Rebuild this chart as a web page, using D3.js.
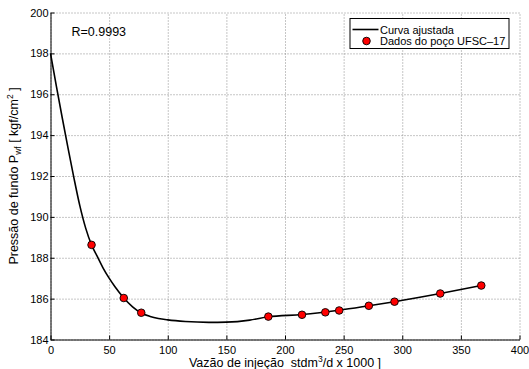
<!DOCTYPE html>
<html>
<head>
<meta charset="utf-8">
<script src="https://cdn.jsdelivr.net/npm/d3@7"></script>
<style>
    html, body { margin: 0; padding: 0; background: #fff; }
    svg { display: block; font-family: "Liberation Sans", Arial, Helvetica, sans-serif; }
    .grid line { stroke: #8c8c8c; stroke-dasharray: 1,2; stroke-width: 1; }
    .grid path { display: none; }
    .axis path, .axis line { stroke: #000; stroke-width: 1; }
    .axis text { font-size: 11px; fill: #000; }
</style>
</head>
<body>
<div id="chart"></div>
<script>
// well test data: injection rate (x1000 stdm3/d) vs bottom-hole pressure (kgf/cm2)
const wellRate = [35, 62.5, 77.4, 185.8, 214.5, 234.4, 246.2, 271.5, 293.4, 332.4, 367.4];
const wellPressure = [188.63, 186.03, 185.31, 185.12, 185.21, 185.33, 185.42, 185.65, 185.85, 186.25, 186.64];

// fitted curve, sampled
const fitRate = [0, 5, 10, 15, 20, 25, 30, 35, 40, 45, 50, 55, 62.5, 70, 77.4, 85, 92, 100, 115, 135, 150, 170, 185.8, 214.5, 246.2, 271.5, 293.4, 332.4, 367.4];
const fitPressure = [198.0, 196.4, 194.85, 193.35, 191.9, 190.55, 189.45, 188.63, 188.05, 187.48, 187.0, 186.58, 186.03, 185.6, 185.3, 185.13, 185.03, 184.96, 184.88, 184.84, 184.85, 184.95, 185.11, 185.22, 185.43, 185.65, 185.85, 186.25, 186.64];

const xTicks = [0, 50, 100, 150, 200, 250, 300, 350, 400];
const yTicks = [184, 186, 188, 190, 192, 194, 196, 198, 200];
const fitLabel = 'R=0.9993';

const width = 529, height = 369;
const margin = { top: 12.5, right: 9.5, bottom: 29.5, left: 50.5 };

const svg = d3.select('#chart').append('svg')
    .attr('width', width)
    .attr('height', height);

const x = d3.scaleLinear().domain([0, 400]).range([margin.left, width - margin.right]);
const y = d3.scaleLinear().domain([184, 200]).range([height - margin.bottom, margin.top]);

// dotted grid
svg.append('g')
    .attr('class', 'grid')
    .attr('transform', `translate(0, ${y(184)})`)
    .call(d3.axisBottom(x).tickValues(xTicks).tickSize(-(y(184) - y(200))).tickFormat(''));
svg.append('g')
    .attr('class', 'grid')
    .attr('transform', `translate(${x(0)}, 0)`)
    .call(d3.axisLeft(y).tickValues(yTicks).tickSize(-(x(400) - x(0))).tickFormat(''));

// axes, ticks pointing inward
svg.append('g')
    .attr('class', 'axis axis-x')
    .attr('transform', `translate(0, ${y(184)})`)
    .call(d3.axisBottom(x).tickValues(xTicks).tickSizeInner(-4).tickSizeOuter(0).tickPadding(5));
svg.append('g')
    .attr('class', 'axis axis-y')
    .attr('transform', `translate(${x(0)}, 0)`)
    .call(d3.axisLeft(y).tickValues(yTicks).tickSizeInner(-4).tickSizeOuter(0).tickPadding(2));

svg.selectAll('.axis text').attr('font-family', null);
svg.selectAll('.axis-x .tick text').attr('dy', '0.85em');

// fitted curve
const line = d3.line()
    .x((d, i) => x(fitRate[i]))
    .y(d => y(d))
    .curve(d3.curveMonotoneX);

svg.append('path')
    .datum(fitPressure)
    .attr('d', line)
    .attr('fill', 'none')
    .attr('stroke', '#000')
    .attr('stroke-width', 1.6);

// measured points
svg.append('g').selectAll('circle')
    .data(wellPressure)
    .enter()
    .append('circle')
    .attr('cx', (d, i) => x(wellRate[i]))
    .attr('cy', d => y(d))
    .attr('r', 3.8)
    .attr('fill', '#ff0000')
    .attr('stroke', '#000')
    .attr('stroke-width', 0.9);

svg.append('text')
    .attr('x', 71.5)
    .attr('y', 36)
    .attr('font-size', 12.5)
    .text(fitLabel);

// legend
const legend = svg.append('g').attr('transform', 'translate(350, 18.5)');
legend.append('rect')
    .attr('width', 159)
    .attr('height', 30)
    .attr('fill', '#fff')
    .attr('stroke', '#000')
    .attr('stroke-width', 1);
legend.append('line')
    .attr('x1', 2.5).attr('x2', 28.5)
    .attr('y1', 11).attr('y2', 11)
    .attr('stroke', '#000')
    .attr('stroke-width', 1.6);
legend.append('circle')
    .attr('cx', 16.5).attr('cy', 22.5)
    .attr('r', 3.8)
    .attr('fill', '#ff0000')
    .attr('stroke', '#000')
    .attr('stroke-width', 0.9);
legend.selectAll('text.entry')
    .data(['Curva ajustada', 'Dados do poço UFSC\u201317'])
    .enter()
    .append('text')
    .attr('class', 'entry')
    .attr('x', 30)
    .attr('y', (d, i) => 15 + i * 11.5)
    .attr('font-size', 11)
    .text(d => d);

// axis titles
const xTitle = svg.append('text')
    .attr('x', (x(0) + x(400)) / 2)
    .attr('y', 366.5)
    .attr('text-anchor', 'middle')
    .attr('font-size', 12.5);
xTitle.append('tspan').text('Vazão de injeção\u00a0 stdm');
xTitle.append('tspan').attr('font-size', 8.5).attr('dy', -5).text('3');
xTitle.append('tspan').attr('dy', 5).text('/d x 1000 ]');

const yTitle = svg.append('text')
    .attr('transform', `translate(18, ${(y(184) + y(200)) / 2}) rotate(-90)`)
    .attr('text-anchor', 'middle')
    .attr('font-size', 12.5);
yTitle.append('tspan').text('Pressão de fundo P');
yTitle.append('tspan').attr('font-size', 8.5).attr('dy', 3).text('wf');
yTitle.append('tspan').attr('dy', -3).text('\u00a0[ kgf/cm');
yTitle.append('tspan').attr('font-size', 8.5).attr('dy', -5).text('2');
yTitle.append('tspan').attr('dy', 5).text('\u00a0]');
</script>
</body>
</html>
